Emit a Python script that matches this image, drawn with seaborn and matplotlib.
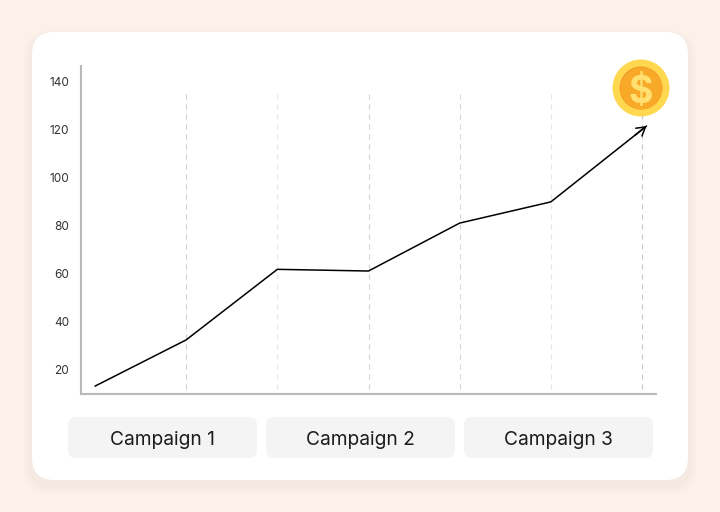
import matplotlib
matplotlib.use("Agg")
import matplotlib.pyplot as plt
from matplotlib.patches import FancyBboxPatch, Circle
from matplotlib.transforms import Affine2D
import pandas as pd
import seaborn as sns

steps = [0, 1, 2, 3, 4, 5, 6.05]
values = [13.3, 32.5, 61.8, 61.1, 81, 89.8, 121.3]
y_ticks = [20, 40, 60, 80, 100, 120, 140]
guide_steps = [1, 2, 3, 4, 5, 6]
guide_colors = ["#cfcfcf", "#e6e6e6", "#d4d4d4", "#d4d4d4", "#e6e6e6", "#c8c8c8"]
campaigns = ["Campaign 1", "Campaign 2", "Campaign 3"]

sns.set_theme(style="white")
plt.rcParams["font.family"] = ["Inter", "DejaVu Sans"]

W, H = 720, 512
fig = plt.figure(figsize=(W / 100, H / 100), dpi=100, facecolor="#FBF0EA")
px = Affine2D().scale(1, -1).translate(0, H)


def rbox(x0, y0, x1, y1, r, color, z, alpha=1.0):
    p = FancyBboxPatch((x0 + r, y0 + r), x1 - x0 - 2 * r, y1 - y0 - 2 * r,
                       boxstyle=f"round,pad={r},rounding_size={r}",
                       transform=px, fc=color, ec="none", alpha=alpha, zorder=z)
    fig.add_artist(p)


# card shadow and card
for g in range(8, 0, -2):
    rbox(32 - g, 32 - g + 6, 688 + g, 480 + g + 6, 20 + g, "#C9B9AE", 0, 0.03)
rbox(32, 32, 688, 480, 22, "white", 1)

# campaign chips
chips = [(68, 257), (266, 455), (464, 653)]
for (x0, x1), name in zip(chips, campaigns):
    rbox(x0, 417, x1, 458, 8, "#F4F4F4", 2)
    fig.text((x0 + x1) / 2 / W, 1 - 438 / H, name, ha="center", va="center_baseline",
             fontsize=13.8, color="#1c1c1c", zorder=3)

ax_l, ax_r, ax_t, ax_b = 81, 656, 66, 394
ax = fig.add_axes([ax_l / W, 1 - ax_b / H, (ax_r - ax_l) / W, (ax_b - ax_t) / H], zorder=4)
ax.patch.set_alpha(0)

scale = (370 - 81) / 120
ax.set_ylim(20 - (394 - 370) / scale, 140 + (81 - 66) / scale)
x_step = (642 - 95) / 6
ax.set_xlim((81 - 95) / x_step, (656 - 95) / x_step)

guide_top = 20 + (370 - 94) / scale
for s, c in zip(guide_steps, guide_colors):
    # drawn from the top down so that the dash pattern starts at the top
    ax.vlines(s, guide_top, ax.get_ylim()[0], colors=c, linewidth=0.8,
              linestyles=(0, (4.5, 4.5)), zorder=1)

df = pd.DataFrame({"step": steps, "value": values})
sns.lineplot(data=df, x="step", y="value", ax=ax, color="black", linewidth=1.1,
             estimator=None, sort=False, zorder=3)
# arrow head only: a short shaft lying on the last segment
f = 0.12
ax.annotate("", xy=(steps[-1], values[-1]),
            xytext=(steps[-1] - f * (steps[-1] - steps[-2]), values[-1] - f * (values[-1] - values[-2])),
            arrowprops=dict(arrowstyle="->,head_length=0.5,head_width=0.3", color="black",
                            lw=1.1, shrinkA=0, shrinkB=0), zorder=4)

ax.set_xlabel("")
ax.set_ylabel("")
ax.set_xticks([])
ax.set_yticks(y_ticks)
ax.tick_params(axis="y", length=0, pad=8.6, labelsize=8.5, labelcolor="#333333")
for side in ("top", "right"):
    ax.spines[side].set_visible(False)
for side in ("left", "bottom"):
    ax.spines[side].set_color("#b9b9b9")
    ax.spines[side].set_linewidth(1.5)

# coin
cx, cy = 641, 88
fig.add_artist(Circle((cx, cy), 28.5, transform=px, fc="#FFD850", ec="none", zorder=5))
fig.add_artist(Circle((cx, cy), 21.5, transform=px, fc="#F39A2B", ec="none", zorder=5))
fig.add_artist(Circle((cx + 0.4, cy + 0.5), 21, transform=px, fc="#F8A928", ec="none", zorder=5))
fig.text(cx / W, 1 - (cy + 0.5) / H, "$", ha="center", va="center_baseline", fontsize=27,
         fontweight="bold", color="#FFE071", zorder=6)

fig.savefig("out.png", dpi=100, facecolor=fig.get_facecolor())
